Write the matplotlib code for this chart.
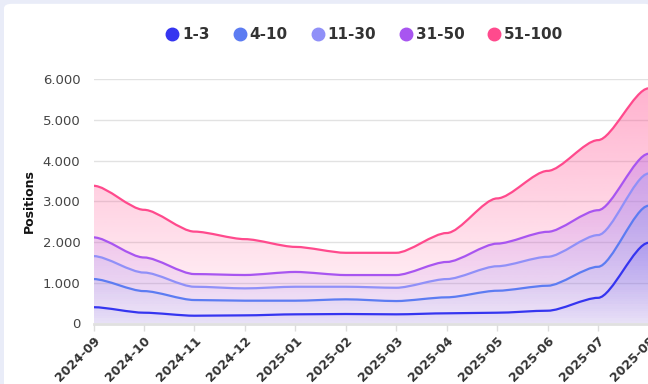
import numpy as np
import matplotlib
matplotlib.use("Agg")
import matplotlib.pyplot as plt
from matplotlib.path import Path
from matplotlib.patches import PathPatch, FancyBboxPatch
from matplotlib.lines import Line2D
from matplotlib.ticker import FuncFormatter

# Monatswerte
monate = ['2024-09', '2024-10', '2024-11', '2024-12', '2025-01', '2025-02',
          '2025-03', '2025-04', '2025-05', '2025-06', '2025-07', '2025-08']
pos_1_3 = [400, 265, 191, 200, 225, 233, 225, 250, 265, 314, 630, 1980]
pos_4_10 = [1090, 795, 576, 560, 560, 593, 551, 642, 804, 927, 1392, 2890]
pos_11_30 = [1654, 1250, 902, 862, 902, 902, 877, 1090, 1405, 1637, 2170, 3680]
pos_31_50 = [2113, 1620, 1213, 1190, 1265, 1189, 1189, 1510, 1960, 2250, 2780, 4165]
pos_51_100 = [3380, 2790, 2255, 2070, 1880, 1735, 1735, 2220, 3070, 3745, 4500, 5770]

serien = ['1-3', '4-10', '11-30', '31-50', '51-100']
werte = [pos_1_3, pos_4_10, pos_11_30, pos_31_50, pos_51_100]
farben = ['#3535f0', '#5c7cf2', '#9090f8', '#a855f0', '#ff4a8d']

Y_MAX = 6000


def glatter_pfad(x, y, s=0.27, schliessen=False):
    # Bezier mit waagrechten Tangenten an jedem Punkt
    verts = [(x[0], y[0])]
    codes = [Path.MOVETO]
    for i in range(len(x) - 1):
        dx = x[i + 1] - x[i]
        verts += [(x[i] + s * dx, y[i]), (x[i + 1] - s * dx, y[i + 1]), (x[i + 1], y[i + 1])]
        codes += [Path.CURVE4] * 3
    if schliessen:
        verts += [(x[-1], 0), (x[0], 0), (x[0], y[0])]
        codes += [Path.LINETO, Path.LINETO, Path.CLOSEPOLY]
    return Path(verts, codes)


fig = plt.figure(figsize=(6.48, 3.84), dpi=100)
fig.patch.set_facecolor('#e9ecf8')
fig.patches.append(FancyBboxPatch((4 / 648, -0.05), 1.0, 1.04, transform=fig.transFigure,
                                  boxstyle='round,pad=0,rounding_size=0.012',
                                  facecolor='white', edgecolor='none', zorder=-5))

ax = fig.add_axes([93.5 / 648, 60.5 / 384, 555 / 648, 244.5 / 384])
ax.set_facecolor('none')
ax.set_zorder(2)

x = np.arange(len(monate))

# Verlauf für die Flächen
grad = np.linspace(0, 1, 256).reshape(-1, 1)
for name, y, c in reversed(list(zip(serien, werte, farben))):
    rgb = matplotlib.colors.to_rgb(c)
    img = np.zeros((256, 1, 4))
    img[..., 0], img[..., 1], img[..., 2] = rgb
    img[..., 3] = 0.04 + 0.40 * grad
    flaeche = PathPatch(glatter_pfad(x, y, schliessen=True), facecolor='none', edgecolor='none')
    ax.add_patch(flaeche)
    im = ax.imshow(img, extent=[x[0], x[-1], 0, Y_MAX], origin='lower', aspect='auto',
                   interpolation='bilinear', zorder=1)
    im.set_clip_path(flaeche)

for name, y, c in zip(serien, werte, farben):
    linie = PathPatch(glatter_pfad(x, y), facecolor='none', edgecolor=c, lw=1.6,
                      zorder=3, capstyle='round', joinstyle='round')
    ax.add_patch(linie)

ax.set_xlim(0, len(monate) - 1)
ax.set_ylim(0, Y_MAX)
ax.set_yticks(range(0, Y_MAX + 1, 1000))
ax.yaxis.set_major_formatter(FuncFormatter(lambda v, p: f'{int(v):,}'.replace(',', '.')))
ax.set_xticks(x)
ax.set_xticklabels(monate, rotation=45, ha='right', rotation_mode='anchor',
                   fontsize=9, fontweight='bold', color='#333333')
ax.tick_params(axis='x', length=5, color='#dddddd', width=1, pad=2.5)
ax.tick_params(axis='y', length=0, pad=9.5, labelsize=9.5, labelcolor='#444444')
ax.grid(axis='y', color='#e2e2e2', lw=1)
ax.set_axisbelow(True)
for side in ['top', 'right', 'left']:
    ax.spines[side].set_visible(False)
ax.spines['bottom'].set_color('#e0e0e0')
ax.spines['bottom'].set_linewidth(2)
ax.set_ylabel('Positions', fontsize=9, fontweight='bold', color='#111111', labelpad=5)

handles = [Line2D([], [], marker='o', ls='none', markersize=9, markerfacecolor=c,
                  markeredgecolor=c) for c in farben]
fig.legend(handles, serien, loc='center', bbox_to_anchor=(0.562, 0.909), ncol=5,
           frameon=False, handletextpad=0.15, columnspacing=1.45, handlelength=1.0,
           prop={'weight': 'bold', 'size': 11}, labelcolor='#333333')

fig.savefig('out.png', dpi=100, facecolor=fig.get_facecolor())
